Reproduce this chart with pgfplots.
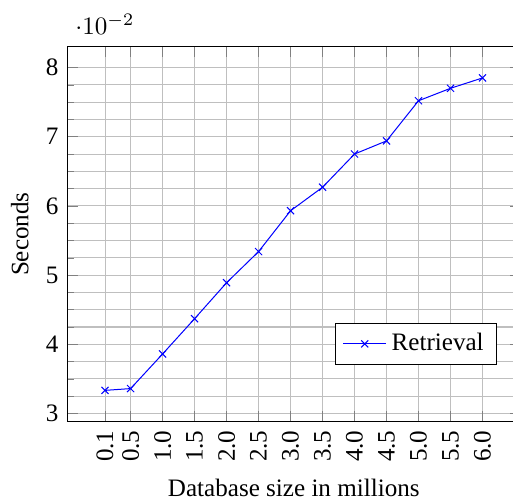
\documentclass[border=0pt]{standalone}
\usepackage{fontspec}
\setmainfont{Liberation Serif}
\usepackage{pgfplots}
\pgfplotsset{compat=1.18}
\begin{document}
\begin{tikzpicture}
\begin{axis}[
  scale only axis,
  width=180.5pt, height=149.4pt,
  enlarge x limits=0.1, enlarge y limits=0.1,
  xtick={0.1,0.5,1.0,1.5,2.0,2.5,3.0,3.5,4.0,4.5,5.0,5.5,6.0},
  xticklabel style={rotate=90, anchor=east, /pgf/number format/.cd, fixed, fixed zerofill, precision=1},
  ytick={0.03,0.04,0.05,0.06,0.07,0.08},
  minor y tick num=3,
  grid=both,
  /pgf/number format/assume math mode=true,
  xlabel={Database size in millions},
  ylabel={Seconds},
  legend style={at={(0.948,0.151)}, anchor=south east},
  legend cell align=left,
]
\addplot[blue, mark=x] coordinates {
 (0.1,0.03334) (0.5,0.0336) (1.0,0.0386) (1.5,0.0437) (2.0,0.0489)
 (2.5,0.0534) (3.0,0.0593) (3.5,0.0627) (4.0,0.0675) (4.5,0.0694)
 (5.0,0.0752) (5.5,0.0770) (6.0,0.0785)
};
\addlegendentry{Retrieval}
\end{axis}
\pgfresetboundingbox
\path[use as bounding box] ([shift={(-26.8pt,-31.6pt)}]current axis.south west) rectangle ([shift={(177.6pt,18.6pt)}]current axis.north west);
\end{tikzpicture}
\end{document}
